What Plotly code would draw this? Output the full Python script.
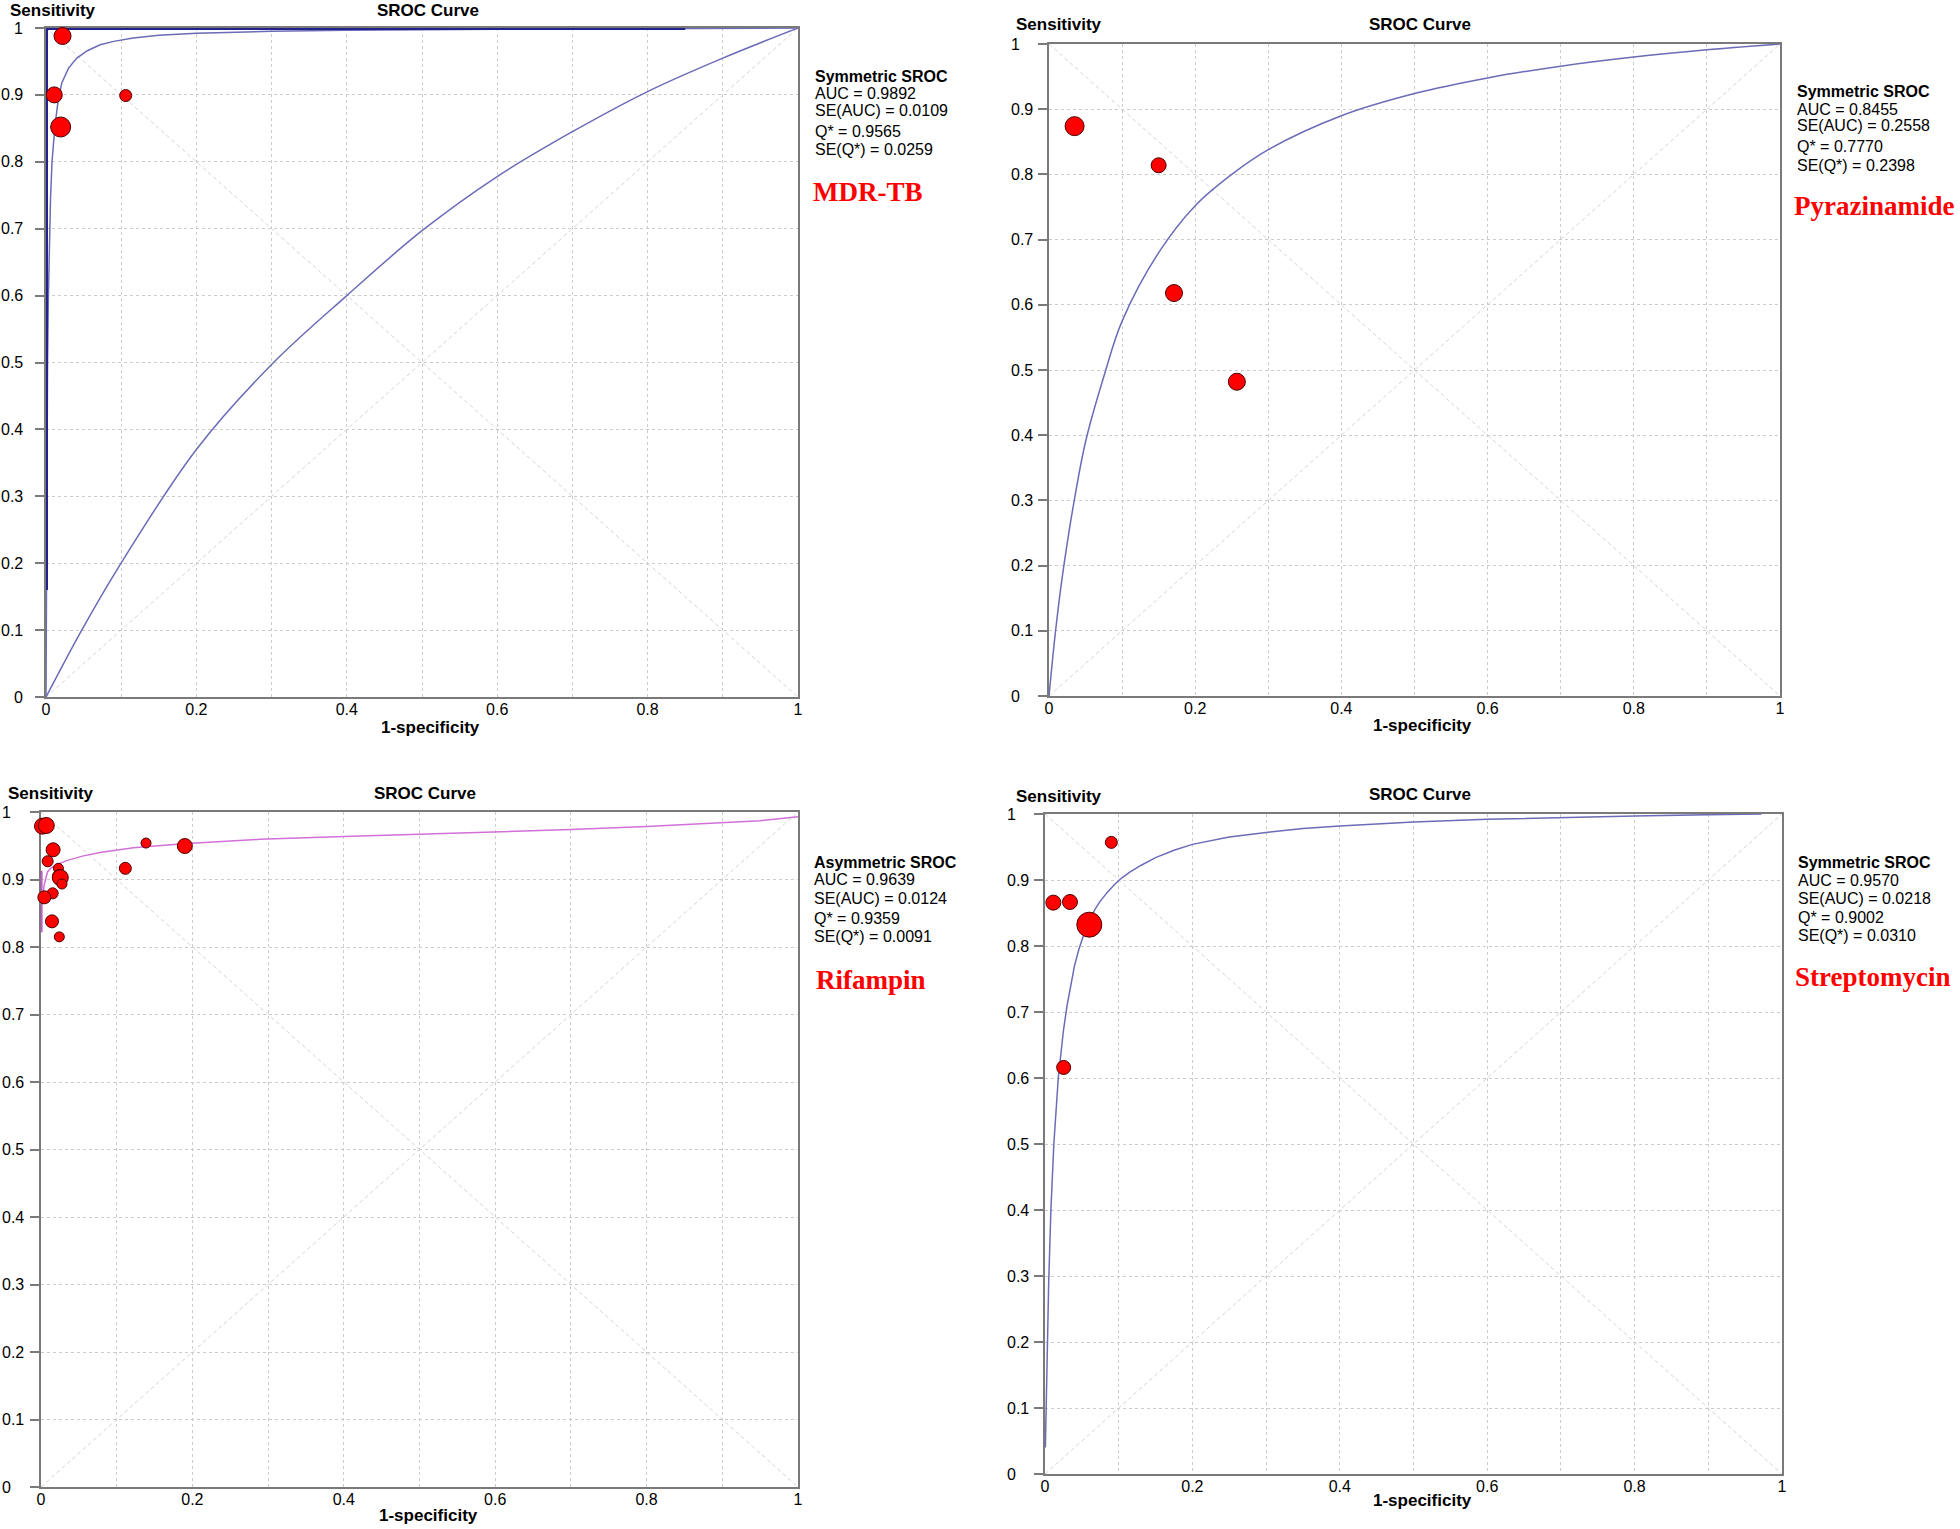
import plotly.graph_objects as go

W, H = 1960, 1529

# ---------------- data ----------------
x_tick_vals = [0, 0.2, 0.4, 0.6, 0.8, 1]
x_tick_text = ["0", "0.2", "0.4", "0.6", "0.8", "1"]
y_tick_vals = [0, 0.1, 0.2, 0.3, 0.4, 0.5, 0.6, 0.7, 0.8, 0.9, 1]
y_tick_text = ["0", "0.1", "0.2", "0.3", "0.4", "0.5", "0.6", "0.7", "0.8", "0.9", "1"]

diag_up_x = [0, 1]
diag_up_y = [0, 1]
diag_down_x = [0, 1]
diag_down_y = [1, 0]

# Panel 1: MDR-TB
mdr_fpr = [0.022, 0.011, 0.106, 0.0195]
mdr_sens = [0.988, 0.900, 0.899, 0.852]
mdr_size = [17, 16, 12, 20]
mdr_curve_x = [0.0, 0.0003, 0.0006, 0.001, 0.002, 0.003, 0.0044, 0.006, 0.008, 0.012, 0.016,
               0.021, 0.03, 0.041, 0.055, 0.072, 0.09, 0.116, 0.15, 0.2, 0.3, 0.4, 0.6, 0.8, 1.0]
mdr_curve_y = [0.0, 0.13, 0.23, 0.33, 0.49, 0.59, 0.68, 0.745, 0.80, 0.855, 0.89,
               0.918, 0.94, 0.955, 0.966, 0.975, 0.98, 0.985, 0.989, 0.992, 0.995, 0.9965, 0.998, 0.9993, 1.0]
mdr_arc_x = [0, 0.047, 0.097, 0.2, 0.3, 0.4, 0.5, 0.6, 0.7, 0.8, 0.9, 1.0]
mdr_arc_y = [0, 0.099, 0.195, 0.37, 0.497, 0.60, 0.697, 0.778, 0.845, 0.905, 0.955, 1.0]
mdr_edge_x = [0.0, 0.0, 0.85]
mdr_edge_y = [0.16, 1.0, 1.0]

# Panel 2: Pyrazinamide
pza_fpr = [0.035, 0.150, 0.171, 0.257]
pza_sens = [0.874, 0.814, 0.618, 0.482]
pza_size = [19, 15, 17, 17]
pza_curve_x = [0.0, 0.003, 0.008, 0.016, 0.025, 0.033, 0.05, 0.075, 0.1, 0.15, 0.2, 0.25, 0.3,
               0.4, 0.5, 0.6, 0.7, 0.8, 0.9, 1.0]
pza_curve_y = [0.0, 0.035, 0.09, 0.165, 0.235, 0.29, 0.39, 0.49, 0.575, 0.68, 0.752, 0.80, 0.838,
               0.89, 0.924, 0.948, 0.966, 0.98, 0.991, 1.0]

# Panel 3: Rifampin
rif_fpr = [0.002, 0.007, 0.016, 0.0088, 0.023, 0.024, 0.0255, 0.0277, 0.0154, 0.0044, 0.0145,
           0.0242, 0.1114, 0.1387, 0.190]
rif_sens = [0.979, 0.980, 0.944, 0.927, 0.9166, 0.905, 0.9027, 0.8933, 0.8795, 0.8736, 0.838,
            0.815, 0.9165, 0.954, 0.9496]
rif_size = [16, 16, 14, 11, 10, 13, 16, 10, 11, 13, 13, 10, 12, 10, 15]
rif_curve_x = [0.0015, 0.0025, 0.004, 0.0066, 0.0088, 0.013, 0.0198, 0.034, 0.056, 0.078, 0.122,
               0.188, 0.289, 0.4, 0.5, 0.6, 0.7, 0.8, 0.9, 0.95, 1.0]
rif_curve_y = [0.862, 0.878, 0.891, 0.903, 0.9116, 0.917, 0.9215, 0.928, 0.935, 0.940, 0.947,
               0.953, 0.9595, 0.9638, 0.967, 0.9705, 0.974, 0.9785, 0.9837, 0.987, 0.993]
rif_vert_x = [0.0008, 0.0008]
rif_vert_y = [0.822, 0.913]

# Panel 4: Streptomycin
stm_fpr = [0.0113, 0.0339, 0.0601, 0.090, 0.0253]
stm_sens = [0.8657, 0.8667, 0.8323, 0.957, 0.616]
stm_size = [15, 15, 25, 12, 14]
stm_curve_x = [0.0005, 0.0014, 0.003, 0.005, 0.008, 0.012, 0.018, 0.0204, 0.025, 0.03, 0.035,
               0.04, 0.046, 0.052, 0.06, 0.068, 0.075, 0.085, 0.095, 0.104, 0.115, 0.13, 0.15,
               0.175, 0.2, 0.25, 0.3, 0.35, 0.4, 0.5, 0.6, 0.7, 0.8, 0.9, 0.972]
stm_curve_y = [0.04, 0.10, 0.20, 0.29, 0.40, 0.50, 0.60, 0.625, 0.672, 0.71, 0.743,
               0.77, 0.795, 0.815, 0.838, 0.856, 0.868, 0.882, 0.894, 0.903, 0.912, 0.922, 0.934,
               0.945, 0.954, 0.965, 0.972, 0.978, 0.982, 0.988, 0.992, 0.995, 0.997, 0.999, 1.0]

stat_title = ["Symmetric SROC", "Symmetric SROC", "Asymmetric SROC", "Symmetric SROC"]
stat_auc = ["0.9892", "0.8455", "0.9639", "0.9570"]
stat_se_auc = ["0.0109", "0.2558", "0.0124", "0.0218"]
stat_q = ["0.9565", "0.7770", "0.9359", "0.9002"]
stat_se_q = ["0.0259", "0.2398", "0.0091", "0.0310"]
drug_names = ["MDR-TB", "Pyrazinamide", "Rifampin", "Streptomycin"]

# ---------------- layout geometry (pixels) ----------------
panels = [
    dict(l=46, r=798, t=28, b=697),
    dict(l=1049, r=1780, t=44, b=696),
    dict(l=41, r=798, t=812, b=1487),
    dict(l=1045, r=1782, t=814, b=1474),
]
stat_pos = [
    dict(x=813, ys=[76, 93, 111, 131, 149], lx=811, ly=192),
    dict(x=1795, ys=[91, 109, 126, 146, 165], lx=1792, ly=206),
    dict(x=812, ys=[862, 879, 898, 918, 937], lx=814, ly=980),
    dict(x=1796, ys=[862, 880, 898, 917, 936], lx=1793, ly=977),
]
title_pos = [
    dict(sx=8, sy=11, cx=428, cy=11, xx=430, xy=727),
    dict(sx=1014, sy=25, cx=1420, cy=25, xx=1422, xy=726),
    dict(sx=6, sy=793, cx=425, cy=793, xx=428, xy=1515),
    dict(sx=1014, sy=796, cx=1420, cy=795, xx=1422, xy=1500),
]
ylab_pos = [dict(x=25, anchor="right"), dict(x=1009, anchor="left"),
            dict(x=0, anchor="left"), dict(x=1005, anchor="left")]


def px(x):
    return x / W


def py(y):
    return 1 - y / H


SANS = "Liberation Sans, Arial, sans-serif"
SERIF = "Liberation Serif, Times New Roman, serif"
CURVE = "#6b6bb8"
GRID = "#cccccc"
AXIS = "#7a7a7a"
TICK_FONT = 16

fig = go.Figure()

series = [
    dict(fpr=mdr_fpr, sens=mdr_sens, size=mdr_size),
    dict(fpr=pza_fpr, sens=pza_sens, size=pza_size),
    dict(fpr=rif_fpr, sens=rif_sens, size=rif_size),
    dict(fpr=stm_fpr, sens=stm_sens, size=stm_size),
]

for i in range(4):
    xa = "x" if i == 0 else f"x{i+1}"
    ya = "y" if i == 0 else f"y{i+1}"
    diag = dict(color="#d4d4d4", width=1, dash="4px,3px")
    fig.add_trace(go.Scatter(x=diag_up_x, y=diag_up_y, mode="lines", line=diag,
                             xaxis=xa, yaxis=ya, hoverinfo="skip"))
    fig.add_trace(go.Scatter(x=diag_down_x, y=diag_down_y, mode="lines", line=diag,
                             xaxis=xa, yaxis=ya, hoverinfo="skip"))

    if i == 0:
        fig.add_trace(go.Scatter(x=mdr_arc_x, y=mdr_arc_y, mode="lines", line_shape="spline",
                                 line=dict(color=CURVE, width=1.5), xaxis=xa, yaxis=ya))
        fig.add_trace(go.Scatter(x=mdr_curve_x, y=mdr_curve_y, mode="lines",
                                 line=dict(color=CURVE, width=1.5), xaxis=xa, yaxis=ya))
        fig.add_trace(go.Scatter(x=mdr_edge_x, y=mdr_edge_y, mode="lines",
                                 line=dict(color="#22228a", width=4), xaxis=xa, yaxis=ya))
    elif i == 1:
        fig.add_trace(go.Scatter(x=pza_curve_x, y=pza_curve_y, mode="lines", line_shape="spline",
                                 line=dict(color=CURVE, width=1.5), xaxis=xa, yaxis=ya))
    elif i == 2:
        fig.add_trace(go.Scatter(x=rif_vert_x, y=rif_vert_y, mode="lines",
                                 line=dict(color="#cc55d0", width=2), xaxis=xa, yaxis=ya))
        fig.add_trace(go.Scatter(x=rif_curve_x, y=rif_curve_y, mode="lines",
                                 line=dict(color="#d070d8", width=1.5), xaxis=xa, yaxis=ya))
    else:
        fig.add_trace(go.Scatter(x=stm_curve_x, y=stm_curve_y, mode="lines",
                                 line=dict(color=CURVE, width=1.5), xaxis=xa, yaxis=ya))

    s = series[i]
    fig.add_trace(go.Scatter(x=s["fpr"], y=s["sens"], mode="markers", cliponaxis=False,
                             marker=dict(color="#ff0000", size=s["size"], opacity=1,
                                         line=dict(color="#4a0000", width=1)),
                             xaxis=xa, yaxis=ya))

annotations = []
layout = dict(width=W, height=H, margin=dict(l=0, r=0, t=0, b=0, autoexpand=False), showlegend=False,
              paper_bgcolor="white", plot_bgcolor="white", font=dict(family=SANS, color="black"))

for i, p in enumerate(panels):
    xk = "xaxis" if i == 0 else f"xaxis{i+1}"
    yk = "yaxis" if i == 0 else f"yaxis{i+1}"
    xa = "x" if i == 0 else f"x{i+1}"
    ya = "y" if i == 0 else f"y{i+1}"
    layout[xk] = dict(domain=[px(p["l"]), px(p["r"])], anchor=ya, range=[0, 1],
                      tickvals=x_tick_vals, ticktext=x_tick_text, ticks="",
                      ticklabelstandoff=-3,
                      tickfont=dict(size=TICK_FONT, family=SANS, color="black"),
                      showline=True, linecolor=AXIS, linewidth=2, mirror=True,
                      showgrid=True, gridcolor=GRID, griddash="dot", gridwidth=1,
                      minor=dict(dtick=0.1, tick0=0, showgrid=True, gridcolor=GRID,
                                 griddash="dot", gridwidth=1, ticks=""),
                      zeroline=False, layer="below traces", fixedrange=True)
    layout[yk] = dict(domain=[py(p["b"]), py(p["t"])], anchor=xa, range=[0, 1],
                      tickvals=y_tick_vals, showticklabels=False, ticks="outside",
                      ticklen=9, tickcolor=AXIS, tickwidth=1.5,
                      showline=True, linecolor=AXIS, linewidth=2, mirror=True,
                      showgrid=True, gridcolor=GRID, griddash="dot", gridwidth=1,
                      zeroline=False, layer="below traces", fixedrange=True)

    # y tick labels
    yl = ylab_pos[i]
    for v, t in zip(y_tick_vals, y_tick_text):
        annotations.append(dict(x=px(yl["x"]), xref="paper", y=v, yref=ya, text=t,
                                xanchor=yl["anchor"], yanchor="middle", showarrow=False,
                                font=dict(size=TICK_FONT, family=SANS, color="black")))

    tp = title_pos[i]
    annotations.append(dict(x=px(tp["sx"]), y=py(tp["sy"]), xref="paper", yref="paper",
                            text="<b>Sensitivity</b>", xanchor="left", yanchor="middle",
                            showarrow=False, font=dict(size=17, family=SANS, color="black")))
    annotations.append(dict(x=px(tp["cx"]), y=py(tp["cy"]), xref="paper", yref="paper",
                            text="<b>SROC Curve</b>", xanchor="center", yanchor="middle",
                            showarrow=False, font=dict(size=17, family=SANS, color="black")))
    annotations.append(dict(x=px(tp["xx"]), y=py(tp["xy"]), xref="paper", yref="paper",
                            text="<b>1-specificity</b>", xanchor="center", yanchor="middle",
                            showarrow=False, font=dict(size=17, family=SANS, color="black")))

    sp = stat_pos[i]
    lines = ["<b>" + stat_title[i] + "</b>",
             "AUC = " + stat_auc[i],
             "SE(AUC) = " + stat_se_auc[i],
             "Q* = " + stat_q[i],
             "SE(Q*) = " + stat_se_q[i]]
    for txt, yy in zip(lines, sp["ys"]):
        annotations.append(dict(x=px(sp["x"]), y=py(yy), xref="paper", yref="paper",
                                text=txt, xanchor="left", yanchor="middle", showarrow=False,
                                font=dict(size=16, family=SANS, color="black")))
    annotations.append(dict(x=px(sp["lx"]), y=py(sp["ly"]), xref="paper", yref="paper",
                            text="<b>" + drug_names[i] + "</b>", xanchor="left", yanchor="middle",
                            showarrow=False, font=dict(size=27, family=SERIF, color="#ff0000")))

layout["annotations"] = annotations
fig.update_layout(**layout)

fig.write_html("out.html",
               config={"displayModeBar": False},
               post_script="document.body.style.margin='0px';document.body.style.padding='0px';"
                           "document.body.style.overflow='hidden';")
